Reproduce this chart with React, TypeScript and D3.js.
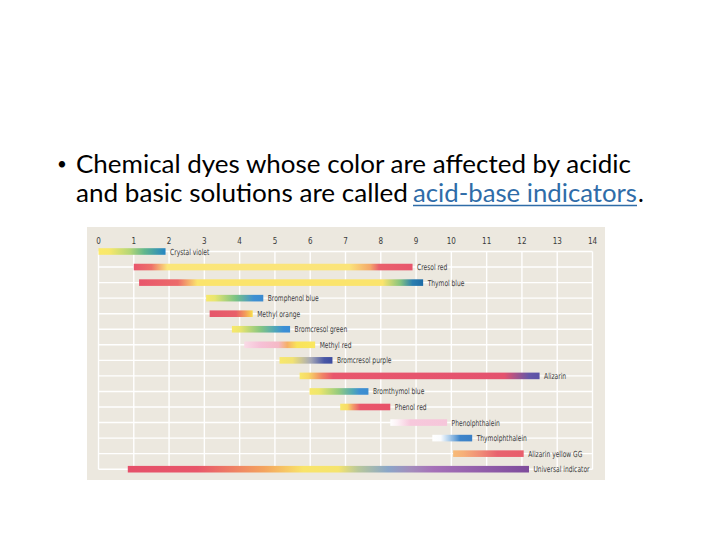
import React from "react";
import * as d3 from "d3";

const phTicks = [0, 1, 2, 3, 4, 5, 6, 7, 8, 9, 10, 11, 12, 13, 14];

const indicatorNames = [
  "Crystal violet",
  "Cresol red",
  "Thymol blue",
  "Bromphenol blue",
  "Methyl orange",
  "Bromcresol green",
  "Methyl red",
  "Bromcresol purple",
  "Alizarin",
  "Bromthymol blue",
  "Phenol red",
  "Phenolphthalein",
  "Thymolphthalein",
  "Alizarin yellow GG",
  "Universal indicator",
];

const phStart = [0, 1.0, 1.15, 3.05, 3.15, 3.78, 4.13, 5.13, 5.7, 5.98, 6.85, 8.27, 9.46, 10.05, 0.83];
const phEnd = [1.9, 8.9, 9.2, 4.67, 4.37, 5.43, 6.14, 6.63, 12.5, 7.65, 8.27, 9.88, 10.59, 12.05, 12.2];

// colour transitions, as [pH, colour]
const colorStops: [number, string][][] = [
  [[0, "#fbe96a"], [0.3, "#f8e86b"], [0.9, "#b3d677"], [1.3, "#62b78c"], [1.9, "#2585c3"]],
  [[1.0, "#e8566c"], [1.5, "#ee7069"], [1.95, "#fbe67a"], [7.1, "#fbe47a"], [7.7, "#f4a86a"], [7.95, "#e9606c"], [8.9, "#e8566c"]],
  [[1.15, "#e8566c"], [2.25, "#ec6a6a"], [2.8, "#fbe46c"], [8.05, "#fbe46c"], [8.55, "#86c47e"], [8.9, "#2a7eb0"], [9.2, "#1d6ba6"]],
  [[3.05, "#f8e86b"], [3.3, "#e7e670"], [3.9, "#78c285"], [4.4, "#3f90d2"], [4.67, "#3b8bd0"]],
  [[3.15, "#e5566a"], [3.9, "#e8606a"], [4.15, "#f39a5c"], [4.37, "#f8de4c"]],
  [[3.78, "#f8e86b"], [4.0, "#ece66e"], [4.6, "#84c582"], [5.0, "#4fa6b8"], [5.25, "#3b8fd6"], [5.43, "#3a8cd4"]],
  [[4.13, "#f9dbe6"], [4.6, "#f6c0d6"], [5.1, "#f5b9c6"], [5.35, "#f6b068"], [5.62, "#f9e35a"], [6.14, "#fae75e"]],
  [[5.13, "#f8e86b"], [5.5, "#f1e274"], [6.0, "#a9abb6"], [6.4, "#4a58a6"], [6.63, "#3c4ca0"]],
  [[5.7, "#f8e86b"], [5.95, "#f7d866"], [6.35, "#f08366"], [6.65, "#e8566c"], [11.5, "#e4526e"], [12.2, "#6557a8"], [12.5, "#5a52a6"]],
  [[5.98, "#f8e86b"], [6.25, "#eee76c"], [6.8, "#95cb7e"], [7.2, "#52a9b4"], [7.4, "#3e90d2"], [7.65, "#3b8cd0"]],
  [[6.85, "#f8e86b"], [7.05, "#f8dc68"], [7.22, "#f2986a"], [7.42, "#e9566a"], [8.27, "#e8526a"]],
  [[8.27, "#ffffff"], [8.46, "#fdf2f6"], [8.84, "#f7c8dc"], [9.88, "#f6c6da"]],
  [[9.46, "#ffffff"], [9.7, "#fafcfe"], [9.95, "#a9cbea"], [10.25, "#3f85ca"], [10.59, "#3a7fc6"]],
  [[10.05, "#f7bb78"], [10.35, "#f6ae78"], [10.85, "#ef8a76"], [11.3, "#e8626e"], [12.05, "#e85e6c"]],
  [[0.83, "#e5506a"], [2.8, "#e8566a"], [4.7, "#f4a45e"], [5.8, "#f9e46a"], [6.8, "#f5e46e"], [7.35, "#b9c89a"], [8.2, "#8aa6c8"], [8.85, "#a38cbc"], [9.5, "#a570b8"], [12.2, "#7e4c9c"]],
];

export default function App() {
  const W = 720;
  const H = 540;
  const x = d3.scaleLinear().domain([0, 14]).range([98.5, 592.5]);
  const y = d3.scalePoint<string>().domain(indicatorNames).range([251.5, 469.2]).padding(0);
  const barH = 6.6;
  const labelFont = "'Liberation Sans Narrow', 'DejaVu Sans Condensed', 'Arial Narrow', sans-serif";

  return (
    <svg width={W} height={H} style={{ display: "block", position: "absolute", left: 0, top: 0 }}>
      <rect x={0} y={0} width={W} height={H} fill="#ffffff" />
      {/* title text */}
      <g fontFamily="Lato, 'Open Sans', sans-serif" fontSize={24.5} fill="#000">
        <text x={57} y={170} fontSize={17}>•</text>
        <text x={76} y={173} textLength={555} lengthAdjust="spacingAndGlyphs">
          Chemical dyes whose color are affected by acidic
        </text>
        <text x={76} y={202} textLength={332} lengthAdjust="spacingAndGlyphs">
          and basic solutions are called
        </text>
        <text x={413} y={202} textLength={224} lengthAdjust="spacingAndGlyphs" fill="#2f6ca8">
          acid-base indicators
        </text>
        <line x1={413} x2={637} y1={205.5} y2={205.5} stroke="#2f6ca8" strokeWidth={1.3} />
        <text x={638} y={202}>.</text>
      </g>

      {/* chart panel */}
      <rect x={87} y={227} width={518} height={253} fill="#ece8df" />
      <defs>
        {indicatorNames.map((n, i) => (
          <linearGradient
            key={n}
            id={`g${i}`}
            gradientUnits="userSpaceOnUse"
            x1={x(phStart[i])}
            x2={x(phEnd[i])}
            y1={0}
            y2={0}
          >
            {colorStops[i].map(([ph, c], j) => (
              <stop key={j} offset={(ph - phStart[i]) / (phEnd[i] - phStart[i])} stopColor={c} />
            ))}
          </linearGradient>
        ))}
      </defs>
      {/* grid */}
      <g stroke="#ffffff" strokeWidth={1.4}>
        {phTicks.map((t) => (
          <line key={t} x1={x(t)} x2={x(t)} y1={y(indicatorNames[0])} y2={y(indicatorNames[14])} />
        ))}
        {indicatorNames.map((n) => (
          <line key={n} x1={x(0)} x2={x(14)} y1={y(n)} y2={y(n)} />
        ))}
      </g>
      {/* tick labels */}
      <g fontFamily={labelFont} fontSize={8} fill="#3a3a3a" textAnchor="middle">
        {phTicks.map((t) => (
          <text key={t} x={x(t)} y={243.5}>
            {t}
          </text>
        ))}
      </g>
      {/* bars */}
      {indicatorNames.map((n, i) => (
        <g key={n}>
          <rect
            x={x(phStart[i])}
            y={(y(n) as number) - barH / 2}
            width={x(phEnd[i]) - x(phStart[i])}
            height={barH}
            fill={`url(#g${i})`}
          />
          <text
            transform={`translate(${x(phEnd[i]) + 4.5},${(y(n) as number) + 3}) scale(0.8,1)`}
            fontFamily={labelFont}
            fontSize={8.3}
            fill="#3a3a3a"
          >
            {n}
          </text>
        </g>
      ))}
    </svg>
  );
}
